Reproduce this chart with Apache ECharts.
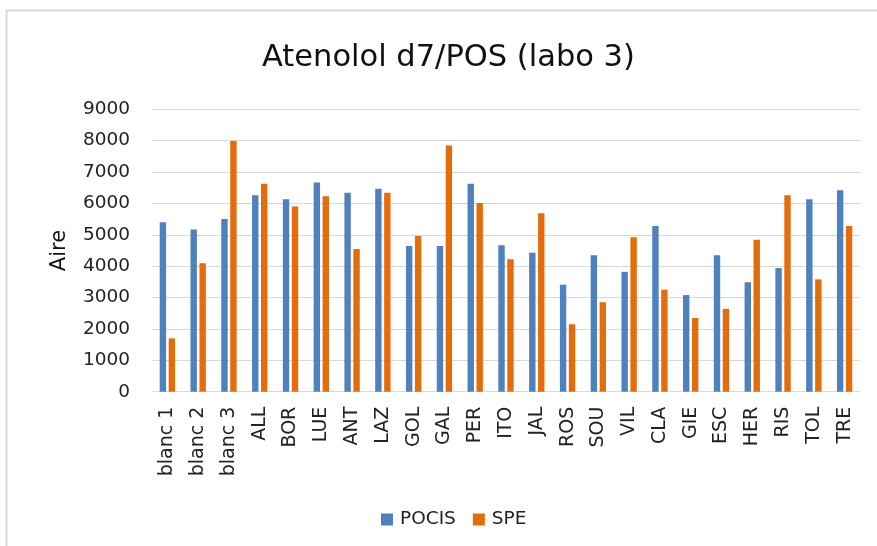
<!DOCTYPE html>
<html>
<head>
<meta charset="utf-8">
<script src="https://cdn.jsdelivr.net/npm/echarts@6/dist/echarts.min.js"></script>
<style>html,body{margin:0;padding:0;background:#fff;}#c{width:877px;height:546px;}</style>
</head>
<body>
<div id="c"></div>
<script>
var categories = ['blanc 1','blanc 2','blanc 3','ALL','BOR','LUE','ANT','LAZ','GOL','GAL','PER','ITO','JAL','ROS','SOU','VIL','CLA','GIE','ESC','HER','RIS','TOL','TRE'];
var pocis = [5400,5170,5500,6260,6130,6670,6340,6470,4640,4640,6630,4670,4430,3410,4350,3820,5280,3080,4350,3490,3940,6130,6420];
var spe   = [1700,4090,7990,6630,5900,6230,4550,6340,4960,7850,6010,4220,5690,2150,2850,4920,3250,2350,2640,4840,6260,3580,5280];
var yTicks = {min:0, max:9000, interval:1000};
var FONT = 'DejaVu Sans';
var chart = echarts.init(document.getElementById('c'), null, {renderer:'canvas'});
chart.setOption({
  animation:false,
  backgroundColor:'#fff',
  title:{text:'Atenolol d7/POS (labo 3)', left:257, top:38,
    textStyle:{fontFamily:FONT, fontSize:30.5, fontWeight:'normal', color:'#111'}},
  legend:{bottom:12, left:376, itemWidth:12, itemHeight:12, itemGap:17,
    icon:'rect', textStyle:{fontFamily:FONT, fontSize:18.5, color:'#222', padding:[0,0,0,2]},
    data:['POCIS','SPE']},
  grid:{left:152, right:17, top:109.3, bottom:154.3, containLabel:false},
  xAxis:{type:'category', data:categories,
    axisLine:{lineStyle:{color:'#d9d9d9', width:1}},
    axisTick:{show:false},
    axisLabel:{rotate:90, margin:15, interval:0, fontFamily:FONT, fontSize:19, color:'#222'}},
  yAxis:{type:'value', min:yTicks.min, max:yTicks.max, interval:yTicks.interval,
    name:'Aire', nameLocation:'middle', nameGap:82, nameRotate:90,
    nameTextStyle:{fontFamily:FONT, fontSize:21, color:'#111'},
    axisLine:{show:false}, axisTick:{show:false},
    splitLine:{lineStyle:{color:'#d9d9d9', width:1}},
    axisLabel:{margin:22, fontFamily:FONT, fontSize:18.5, color:'#222',
      formatter:function(v){return String(v);}}},
  series:[
    {name:'POCIS', type:'bar', data:pocis, barWidth:6.4, barGap:'40%',
      itemStyle:{color:'#4F81BD'}},
    {name:'SPE', type:'bar', data:spe, barWidth:6.4, barGap:'40%',
      itemStyle:{color:'#E46C0A'}}
  ],
  graphic:[
    {type:'line', shape:{x1:6.5, y1:10.5, x2:877, y2:10.5}, style:{stroke:'#d9d9d9', lineWidth:2}},
    {type:'line', shape:{x1:6.5, y1:10.5, x2:6.5, y2:546}, style:{stroke:'#d9d9d9', lineWidth:2}}
  ]
});
</script>
</body>
</html>
